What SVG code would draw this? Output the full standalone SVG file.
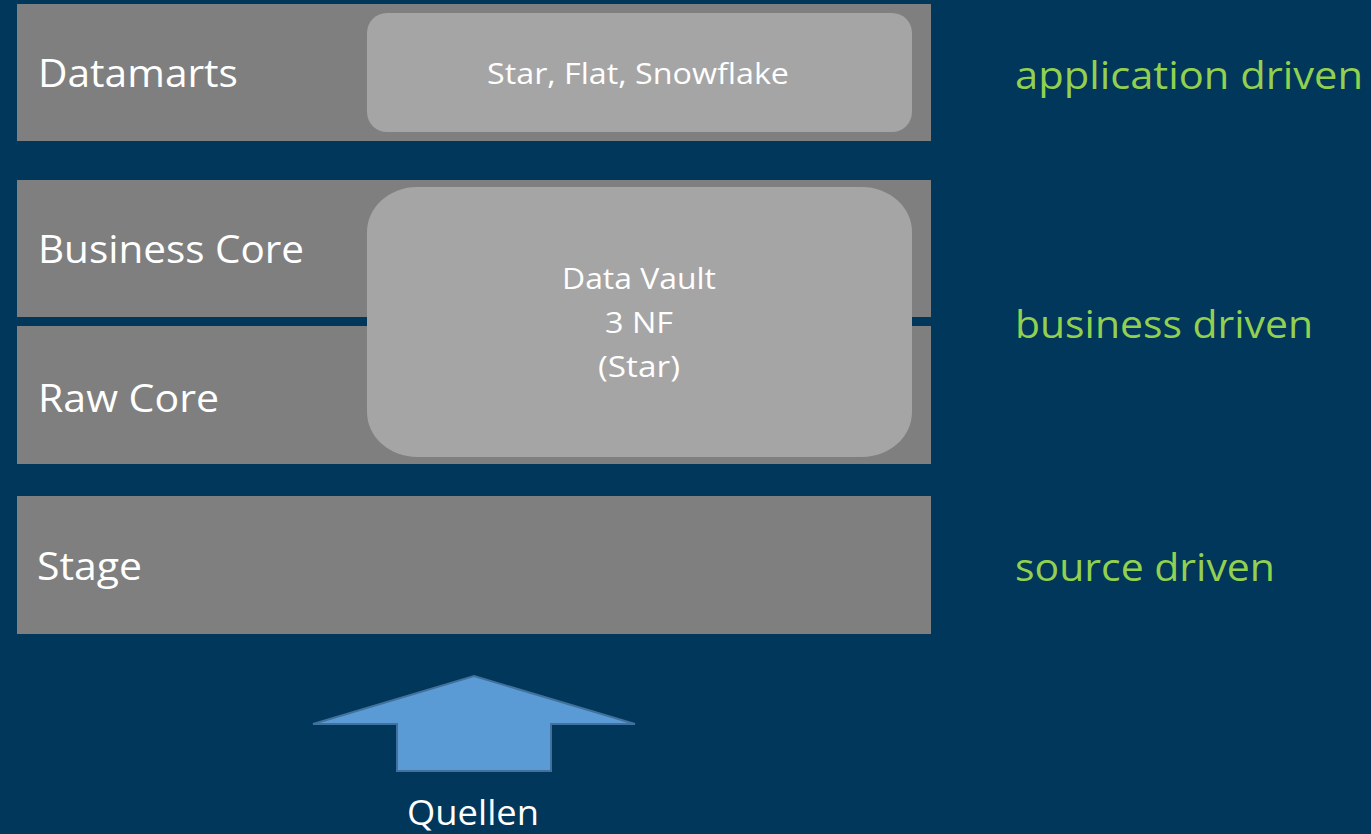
<svg xmlns="http://www.w3.org/2000/svg" width="1371" height="834" viewBox="0 0 1371 834">
<style>
.band{fill:#7F7F7F}
.inner{fill:#A5A5A5}
.t{font-family:"Open Sans","Liberation Sans",sans-serif;fill:#FFFFFF}
.g{font-family:"Open Sans","Liberation Sans",sans-serif;fill:#92D050;font-size:38px}
.lbl{font-size:39px}
.sm{font-size:29px;text-anchor:start}
</style>
<rect x="0" y="0" width="1371" height="834" fill="#00375A"/>
<g id="datamarts">
<rect class="band" x="17" y="4" width="914" height="137"/>
<text class="t lbl" x="38" y="87" textLength="200" lengthAdjust="spacingAndGlyphs">Datamarts</text>
</g>
<g id="business-core">
<rect class="band" x="17" y="180" width="914" height="137"/>
<text class="t lbl" x="38" y="263" textLength="266" lengthAdjust="spacingAndGlyphs">Business Core</text>
</g>
<g id="raw-core">
<rect class="band" x="17" y="326" width="914" height="138"/>
<text class="t lbl" x="38" y="412" textLength="181" lengthAdjust="spacingAndGlyphs">Raw Core</text>
</g>
<g id="stage">
<rect class="band" x="17" y="496" width="914" height="138"/>
<text class="t lbl" x="37" y="580" textLength="105" lengthAdjust="spacingAndGlyphs">Stage</text>
</g>
<g id="star-flat-snowflake">
<rect class="inner" x="367" y="13" width="545" height="119" rx="20" ry="20"/>
<text class="t sm" x="487" y="84" textLength="302" lengthAdjust="spacingAndGlyphs">Star, Flat, Snowflake</text>
</g>
<g id="data-vault">
<rect class="inner" x="367" y="187" width="545" height="270" rx="50" ry="45"/>
<text class="t sm" x="562" y="289" textLength="154" lengthAdjust="spacingAndGlyphs">Data Vault</text>
<text class="t sm" x="605" y="333" textLength="68" lengthAdjust="spacingAndGlyphs">3 NF</text>
<text class="t sm" x="598" y="377" textLength="82" lengthAdjust="spacingAndGlyphs">(Star)</text>
</g>
<g id="quellen">
<polygon points="474,676 635,724 551,724 551,771 397,771 397,724 313,724" fill="#5B9BD5" stroke="#41719C" stroke-width="2"/>
<text class="t" font-size="34" x="407" y="825" textLength="132" lengthAdjust="spacingAndGlyphs">Quellen</text>
</g>
<g id="labels">
<text class="g" x="1015" y="89" textLength="348" lengthAdjust="spacingAndGlyphs">application driven</text>
<text class="g" x="1015" y="338" textLength="298" lengthAdjust="spacingAndGlyphs">business driven</text>
<text class="g" x="1015" y="581" textLength="260" lengthAdjust="spacingAndGlyphs">source driven</text>
</g>
<g id="connectors"></g>
</svg>
